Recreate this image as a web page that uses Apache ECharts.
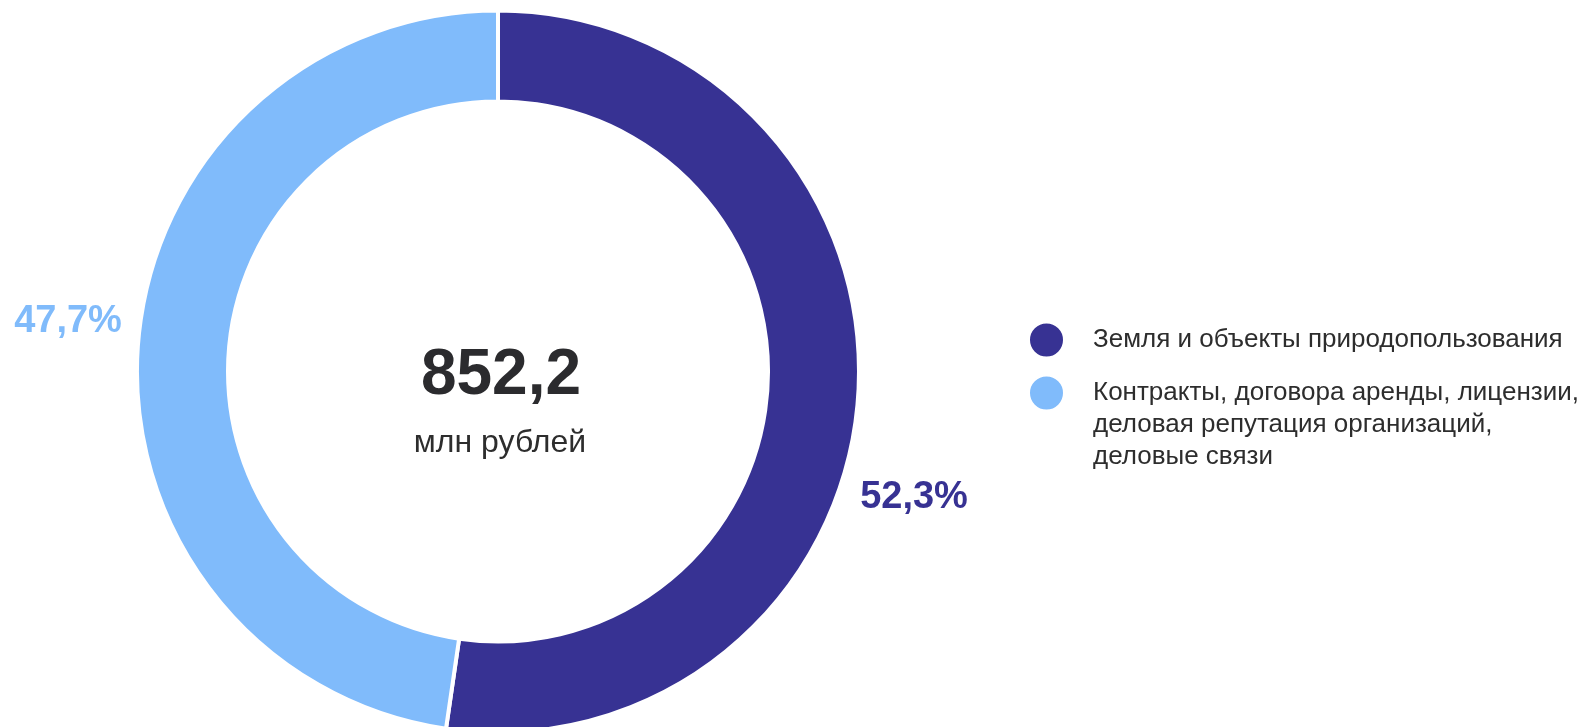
<!DOCTYPE html>
<html>
<head>
<meta charset="utf-8">
<script src="https://cdn.jsdelivr.net/npm/echarts@6/dist/echarts.min.js"></script>
<style>
	html, body { margin: 0; padding: 0; background: #fff; }
	#chart { width: 1583px; height: 727px; }
</style>
</head>
<body>
<div id="chart"></div>
<script>
const categories = [
	'Земля и объекты природопользования',
	'Контракты, договора аренды, лицензии,\nделовая репутация организаций,\nделовые связи'
]
const shares = [52.3, 47.7]
const colors = ['#373293', '#80bbfb']
const total = '852,2'
const unit = 'млн рублей'

const chart = echarts.init(document.getElementById('chart'))
const font = 'Liberation Sans, Arial, sans-serif'

// where the percent labels sit (they are placed by hand in the original)
const labelSpots = [[914, 498], [68, 322]]

chart.setOption({
	animation: false,
	color: colors,
	legend: {
		orient: 'vertical',
		left: 1028,
		top: 313,
		padding: 0,
		icon: 'circle',
		itemWidth: 35,
		itemHeight: 35,
		itemGap: -45.5,
		selectedMode: false,
		// two empty lines on top so the marker lines up with the first text line
		formatter: function (name) {
			return name.indexOf('\n') >= 0 ? '\n\n' + name : name
		},
		textStyle: {
			fontFamily: font,
			fontSize: 26,
			lineHeight: 32,
			color: '#2d2d2d',
			padding: [0, 0, 0, 24]
		}
	},
	graphic: [
		{
			type: 'text',
			x: 501,
			y: 376,
			style: {
				text: total,
				textAlign: 'center',
				textVerticalAlign: 'middle',
				font: 'bold 64px ' + font,
				fill: '#2b2b2e'
			}
		},
		{
			type: 'text',
			x: 500,
			y: 443,
			style: {
				text: unit,
				textAlign: 'center',
				textVerticalAlign: 'middle',
				font: '32px ' + font,
				fill: '#2d2d2d'
			}
		}
	],
	series: [{
		type: 'pie',
		center: [498, 371.5],
		radius: [270, 361],
		startAngle: 90,
		clockwise: true,
		avoidLabelOverlap: false,
		itemStyle: { borderColor: '#fff', borderWidth: 4 },
		label: {
			show: true,
			position: 'outside',
			fontFamily: font,
			fontSize: 38,
			fontWeight: 'bold',
			formatter: function (p) {
				return String(p.value).replace('.', ',') + '%'
			}
		},
		labelLine: { show: false },
		labelLayout: function (p) {
			const spot = labelSpots[p.dataIndex]
			return { x: spot[0], y: spot[1], align: 'center', verticalAlign: 'middle' }
		},
		emphasis: { disabled: true },
		data: categories.map(function (name, i) {
			return { name: name, value: shares[i], label: { color: colors[i] } }
		})
	}]
})
</script>
</body>
</html>
